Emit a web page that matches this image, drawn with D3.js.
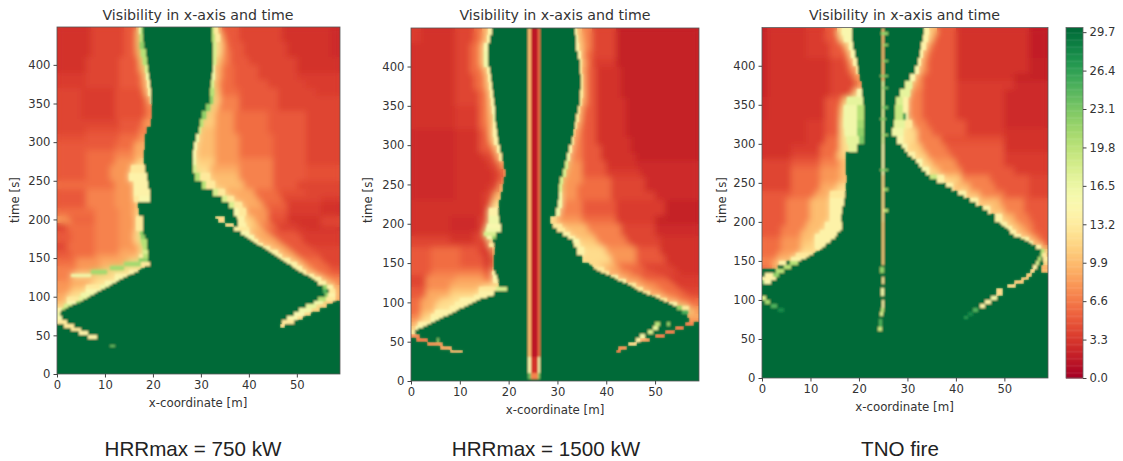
<!DOCTYPE html>
<html>
<head>
<meta charset="utf-8">
<script src="https://cdn.jsdelivr.net/npm/d3@7"></script>
<style>
body { margin: 0; background: #fff; }
text { fill: #333; font-family: "DejaVu Sans"; }
.caption { font-family: "Liberation Sans"; font-size: 20.6px; fill: #222; }
</style>
</head>
<body>
<svg id="chart" width="1123" height="461"></svg>
<script>
// each row: [start time, "value:endX value:endX ..."], row lasts until the previous (later) start time
const rows750 = [
    [440, "3:7 4:14 5:16.5 9:17 16:17.6 22:18 30:32.3 20:32.8 13:33.6 8:34.5 5:38 4:47 3:57 2.5:59"],
    [430, "3:7 4:14 5:16.5 10:17.2 20:18 30:32.4 20:33 13:34 8:35 5:38 4:47 3:57 2.5:59"],
    [420, "3:7 4:14 5:16.5 10:17.4 22:18.2 30:32.5 18:33.2 12:34.5 8:35.5 5:39 4:48 3:57 2.5:59"],
    [410, "3:7 4:14 5:16.5 9:17.6 20:18.5 30:32.6 18:33.2 12:34.5 7:36 5:39 4:48 3:57 2.5:59"],
    [400, "3:6 4:13 5:17 10:18 20:18.8 30:32.6 18:33.2 10:34.5 7:36 5:40 4:50 3:59"],
    [390, "3:6 4:13 5:17 9:18.4 18:19 30:32.5 16:33 9:34.5 6:37 5:42 4:50 3:59"],
    [380, "3.5:6 4:13 5:17.5 8:18.6 16:19.2 30:32.3 16:33 9:34.5 6:37 5:42 4:50 3.5:59"],
    [370, "3.5:6 4:13 5:17.5 8:18.8 14:19.3 30:32.2 18:32.8 9:34 6:37 5:44 4:52 3.5:59"],
    [360, "4:5 3.5:12 4.5:18 8:19 14:19.5 30:32 20:32.7 10:34 6:38 5:46 4:54 3.5:59"],
    [350, "4:5 3.5:12 4.5:18.5 8:19.3 14:19.7 30:31.8 22:32.5 11:34 7:38 5:46 4:59"],
    [340, "4:5 3.5:12 4.5:18.5 7:19.8 30:31 22:31.8 11:33.5 7:38 5:46 4:59"],
    [330, "4:5 3.5:12 4.5:18.5 7:19.8 30:30.2 22:31 11:33 8:37 6:44 5:52 4:59"],
    [320, "4:6 4:13 5:18 8:19.5 30:29.8 20:30.5 11:33 8:37 6:44 5:52 4:59"],
    [310, "4:6 4.5:13 5:17 7:18.8 30:29.5 18:30 10:33 8:37 6:44 5:52 4:59"],
    [300, "4.5:6 5:13 6:17 8:18.4 30:29 16:29.6 10:33 8:38 6:45 5:52 4:59"],
    [290, "5:6 5:12 6:16 9:18.4 30:28.6 15:29.2 10:33 8:38 6:45 5:52 4:59"],
    [280, "5:6 6:12 7:16 9:18.2 30:28.4 15:29 10:33 8:38 6:45 5:52 4:59"],
    [270, "5:6 6:12 8:16.5 11:18.2 30:28.3 16:29 11:33 8:38 7:45 5:52 4:59"],
    [260, "5:6 6:11 8:15.5 13:18.3 30:28.3 18:29 12:32 9:38 7:45 5:52 4.5:59"],
    [250, "5:6 6:11 8:15 14:18.7 30:28.8 20:29.8 13:32 10:38 7:45 5:52 4.5:59"],
    [240, "6:6 6:12 8:16 14:19 30:30.3 20:31 13:33 10:39 7:45 5:50 4:59"],
    [230, "5:6 7:12 8:16 14:19.3 30:32.5 18:33.5 13:35 9:41 6:46 4.5:52 4:59"],
    [222, "5:6 7:12 8:16 13:17 15:19.3 30:34.5 18:35.5 13:37 9:42 6:47 4:55 3.5:59"],
    [215, "5:6 7:12 8:16 10:16.8 30:35.8 18:37 13:38.5 9:43 5.5:48 3.5:55 3:59"],
    [205, "6:3 6:8 7:13 8:16 11:17 30:36.8 15:38 13:39.5 8:44 5:48 3.5:55 3:59"],
    [200, "8:2 5.5:8 7:13 8:16.5 13:18 30:33 12:35 30:37.6 14:39 11:41 8:44 4.5:48 3:55 4:59"],
    [195, "8:3 5.5:8 7:13 8:16.5 13:18 30:33.5 12:35 30:37.7 14:39 11:41 8:44 4.5:48 3:55 4:59"],
    [190, "4:2 6:8 7:13 8:16.5 13:18 30:35 12:36.8 30:37.8 14:39.5 11:42 7:45 4:50 3:55 4:59"],
    [185, "4:2 6:8 7:13 8:16.5 13:18 30:37 14:38 13:40 10:43 6:46 3.5:52 3:59"],
    [180, "5:3 6:8 7:13 8:16 12:17.3 22:18 30:38.3 15:40 9:44 5:50 3.5:59"],
    [175, "5:3 6:8 7:13 8:16 12:17.6 22:18.3 30:39.1 15:41 9:45 5:51 3.5:59"],
    [170, "5:3 6:8 7:13 8:16 12:17.6 20:18.7 30:40.4 14:42 9:46 5:51 3.5:59"],
    [165, "4:2 6:8 7:13 8:16.5 11:17.8 20:18.7 30:41.6 14:43 9:47 5:52 3.5:59"],
    [160, "4:2 6:8 7:13 8:17 11:18 20:18.8 30:42.9 14:44.5 9:48 5:53 4:59"],
    [155, "5:3 6:8 7:13 9:17 12:18 18:19 30:44.2 14:46 9:49 5:54 4:59"],
    [150, "5:3 6:8 8:13 9:17 13:18 20:19 30:45.5 14:47 9:50 5:55 4:59"],
    [145, "6:4 8:9 9:15 12:17 22:19 30:46.7 14:48.5 9:51 6:55 4:59"],
    [140, "6:4 8:9 9:14 21:17.5 13:19.3 30:48 14:50 9:52 6:56 4:59"],
    [135, "7:4 8:9 10:11 21:14 12:18.4 30:49.3 14:51 9:53 6:57 4.5:59"],
    [130, "7:4 9:7 21:10.5 12:15 14:16.9 30:50.5 14:52 9:54 6:57 5:59"],
    [125, "7:3 16:7 11:12 14:15.3 30:51.8 14:53.5 9:55.5 6:59"],
    [120, "7:3 9:8 12:12 15:13.8 30:53.1 14:55 9:57 7:59"],
    [115, "8:3 9:7 12:10 15:12.3 30:54.4 14:56 9:58 7:59"],
    [110, "8:3 10:6 13:9 16:10.8 30:55.4 22:56.3 14:57.5 9:59"],
    [105, "8:3 11:6 15:9.2 30:55.5 25:56.3 30:56.7 13:58 9:59"],
    [100, "9:2 12:5 16:7.7 30:55.8 22:56.6 14:58 9:59"],
    [95, "9:2 13:4.5 17:6.2 30:54.5 20:56 13:58 9:59"],
    [90, "10:2 15:4 22:4.7 30:53.5 16:55.5 10:57.5 30:59"],
    [85, "11:1.5 18:3.1 30:52 17:54 11:56.2 30:59"],
    [80, "14:1 20:1.6 30:50.5 16:53 11:54.8 30:59"],
    [75, "16:0.7 30:49.5 15:51.5 11:53 30:59"],
    [70, "15:1 30:48 15:50 11:51.2 30:59"],
    [65, "13:2 30:47 13:49.4 30:59"],
    [60, "30:1.5 13:3.5 30:46.5 12:47.6 30:59"],
    [55, "30:3 13:5 30:59"],
    [50, "30:4.5 14:6.5 30:59"],
    [45, "30:6.5 14:8.3 30:59"],
    [38, "30:59"],
    [35, "30:11 24:12 30:59"],
    [0, "30:59"]
];

const rows1500 = [
    [440, "3.5:2 3:9 4:13 6:14.5 9:15.7 14:16.5 30:33.6 14:34 10:35 7:37 4:42 2:59"],
    [430, "3.5:2 3:9 4:13 6:14.5 9:15.5 14:16.2 30:33.7 14:34.2 10:35.2 7:37 4:42 2:59"],
    [420, "3:2 3:9 4:12 6:14 9:15 15:15.8 30:33.9 14:34.4 10:35.5 7:37 4:42 2:59"],
    [410, "3:2 3:9 4:12 6:14 9:15 16:15.8 30:34.3 14:34.8 9:35.5 6:37 4:42 2:59"],
    [400, "3:9 4:12 6:14 9:15 16:15.8 30:34.6 13:35 9:35.8 6:37 3.5:42 2:59"],
    [390, "3:9 4:12 6:14.5 9:15.5 14:16.1 30:34.7 13:35.1 8:36 5:38 3:43 2:59"],
    [380, "3:9 4:13 6:15 9:15.8 14:16.3 30:34.8 13:35.2 8:36 5:38 3:43 2:59"],
    [370, "3:9 4:13 6:15 9:16 14:16.6 30:34.8 13:35.2 8:36 5:38 3:43 2:59"],
    [360, "3:9 4:14 6:15.5 9:16.2 14:16.9 30:34.7 13:35.2 8:36 5:38 3:43 2:59"],
    [350, "3:9 4:14 6:15.5 9:16.4 14:17 30:34.6 13:35.1 8:36 5:38 3:44 2:59"],
    [340, "3:9 3.5:14 6:15.5 9:16.5 15:17.2 30:34.2 13:34.7 8:35.5 5:38 3:44 2:59"],
    [330, "3:9 3.5:14 6:15.5 9:16.7 16:17.3 30:33.9 13:34.4 8:35.2 5:38 3:44 2:59"],
    [320, "3:9 3.5:14 6:15.8 9:16.8 14:17.4 30:33.5 13:34 8:35 5:38 3:44 2:59"],
    [310, "2.5:9 3:14 5:15.8 9:16.8 14:17.6 30:33.2 12:33.8 7:35 5:38 3:44 2:59"],
    [300, "2.5:9 3:14 5:16 9:17 14:17.9 30:32.9 13:33.4 7:35 5:38 3:45 2:59"],
    [290, "2.5:9 3:14 5:16.5 8:17.6 14:18.3 30:32.4 14:33 7:35 5:39 3:45 2:59"],
    [280, "2.5:9 3:15 4:17 7:18 13:18.6 30:31.9 16:32.6 7:35 5:39 3:46 2:59"],
    [270, "2.5:9 3:16 4:18 8:19 30:31.5 18:32.2 8:35 5:40 3:46 2.5:59"],
    [260, "2.5:9 3:17 4:18.8 8:19.4 30:31.2 18:31.8 8:35 5:40 3.5:47 2.5:59"],
    [250, "2.5:9 3:17 4:18.5 7:19 30:30.5 18:31.2 8:35 6:41 4:48 2.5:59"],
    [240, "2.5:9 3:16 4:18 10:18.9 30:30.4 18:31 8:34 6:41 4:48 2.5:59"],
    [230, "2.5:9 3:15 4:17 10:18.4 30:30.4 16:31 8:34 6:41 4:50 2.5:59"],
    [220, "3:9 3:15 4:16.5 12:18 30:30.2 16:31 7:35 5:42 3.5:52 2:59"],
    [210, "3:8 3:15 4:16 14:17.9 30:29.8 16:30.5 7:35 5:42 3.5:52 2:59"],
    [200, "3:8 2.5:14 4:16 16:18 30:28.4 12:30 8:35 6:42 3.5:50 2:59"],
    [195, "3:8 2.5:14 4:15.5 15:18.5 30:29.1 13:31 10:36 7:43 4:50 2.5:59"],
    [190, "3:8 2.5:14 4:15.3 16:18.5 30:30 13:31.5 10:36 7:43 4:50 2.5:59"],
    [185, "3:8 3:13 4:15 18:17.5 30:31.2 14:32.5 10:37 7:43 4:50 2.5:59"],
    [180, "4:8 3:13 4:15.5 15:16.5 22:17.5 30:32.2 14:33.5 10:38 7:44 4:51 3:59"],
    [175, "4:8 3:13 4:16 12:16.8 30:33.2 15:34.5 11:38 7:44 4:51 3:59"],
    [170, "4:8 4:14 4:16 13:17 30:33.3 14:34.6 11:39 7:45 4:51 3:59"],
    [160, "5:4 6:10 5:14 3.5:16.5 10:17.2 30:34 14:35.5 12:40 8:46 5:51 3:59"],
    [150, "5:4 6:10 5:15 3:16.5 8:17 30:35 12:36.5 12:41 8:46 5:52 3:59"],
    [145, "5:4 6:10 5:15 3.5:16.5 8:17 30:36.5 12:38.5 10:42 6:47 4:53 3:59"],
    [140, "5:4 6:10 6:15 4:16.5 10:17 30:37.5 13:39.5 9:43 6:48 4:54 3:59"],
    [135, "5:4 7:10 7:15 5:16.5 14:17.3 30:39 13:40.5 8:45 5:50 4:55 3:59"],
    [130, "4:3 7:9 8:15 6:16.8 15:17.6 30:41 14:42.5 8:47 5:52 3.5:59"],
    [125, "4:3 8:9 9:15 7:16.8 14:17.9 30:42.5 14:44 8:48 6:53 3.5:59"],
    [120, "4:3 7:8 9:15 11:18 30:44.5 13:46 8:50 6:54 3.5:59"],
    [115, "5:3 8:8 10:14 13:17.5 18:19.6 30:45.8 13:47.5 8:51 6:55 4:59"],
    [110, "5:3 9:8 11:14 14:17 30:47.5 13:49 8:52 6:56 4:59"],
    [105, "5:3 9:8 12:13 14:16.8 30:49.3 13:51 8:54 6:57 4.5:59"],
    [100, "6:2 9:6 12:10 14:14.2 30:51 13:52.5 8:55 6:59"],
    [95, "6:2 9:5 12:9 14:12.5 30:52.8 14:54.5 9:56.5 6:59"],
    [90, "6:2 9:5 12:8 14:10.8 30:54.5 22:55.5 13:57 8:59"],
    [85, "6:2 10:5 14:9.2 30:55.5 25:56.7 11:58 8:59"],
    [80, "7:2 11:4 14:7.5 30:56.5 9:59"],
    [75, "8:2 12:4 15:5.8 30:57 8:59"],
    [70, "9:1.5 14:4.1 30:50 20:51 30:52.5 22:53 30:56.2 7:58 30:59"],
    [65, "11:1 15:2.4 30:49.5 17:50.5 30:54 7:56 30:59"],
    [60, "13:0.8 30:48.5 18:49.5 30:52 7:54 30:59"],
    [55, "7:1.8 30:47 16:48 30:50 7:52 30:59"],
    [50, "30:1 7:3.5 30:5.4 23:5.8 30:46 14:47 8:49 30:59"],
    [45, "30:3.2 8:6.5 30:44.5 12:46.3 30:59"],
    [40, "30:6 9:8.5 30:42.5 8:44.2 30:59"],
    [35, "30:8 10:10.7 30:42 7:43 30:59"],
    [0, "30:59"]
];

const rowsTno = [
    [440, "2:1 3:9 3.5:13 5:15.5 12:16.5 15:18.5 30:33.4 14:34.5 10:36 5:40 3:55 1.8:59"],
    [430, "2:1 3:9 3.5:13 5:15.8 12:17 15:18.5 30:33.3 14:34.3 10:35.5 5:40 3:55 1.8:59"],
    [420, "2:1 3:9 3.5:14 5:17 10:18 15:18.8 30:32.9 14:33.8 8:35 5:40 3:55 1.8:59"],
    [410, "2:1 3:9 3.5:14 5:17.5 9:18.4 15:19.2 30:32.6 14:33.2 8:34.5 5:40 3:55 1.8:59"],
    [400, "2:1 3:9 3:14 4:17.5 7:18.8 14:19.5 30:32.2 14:32.8 8:34 5:40 3:55 2:59"],
    [390, "2:1 3:9 3:14 4:18 7:19.3 13:19.9 30:31.5 15:32.3 8:34 5:40 3:55 2:59"],
    [380, "2:1 3:9 3:14 4:19 8:20.3 30:30.5 15:31.5 8:33 5:40 3:52 2:59"],
    [370, "2:1 3:9 3:14 4:19.5 8:20.7 30:29.5 17:31 8:33 5:40 3.5:52 2.5:59"],
    [360, "2:1 3:9 3:14 4:18.5 9:19.5 15:20.7 30:28.5 17:30.5 7:33 5:40 3.5:50 2.5:59"],
    [350, "2.5:1 3:9 3:13 5:16.5 10:17.5 17:20.9 30:27.7 18:29 14:30.2 7:33 5:40 3.5:50 2.5:59"],
    [340, "2.5:1 3:9 3:13 5:16 10:17 16:19.5 20:21 30:27.5 19:29 14:30.2 7:33 5:40 3.5:50 2.5:59"],
    [330, "2.5:1 3:9 3:13 5:16 11:17 16:19.5 20:21 30:27.4 19:29 27:29.8 15:30.2 7:33 5:40 3.5:50 2.5:59"],
    [320, "3:9 3.5:13 5:16 12:17 16:19.5 21:21 30:27.2 17:29.5 13:31 7:34 5:42 3.5:50 2.5:59"],
    [310, "3:9 3.5:13 5:16 12:17.2 16:19.5 22:21 30:26.9 16:29 12:32 7:35 5:42 3.5:50 3:59"],
    [300, "3:9 3.5:13 6:16 12:17.5 17:20 23:21 30:27.8 15:29 12:32 7:37 4.5:50 3:59"],
    [290, "3:6 3.5:12 6:16 12:18 17:19.5 30:28.8 15:30 11:33 7:38 5:50 3:59"],
    [280, "3:6 4:12 6:15.5 11:17.3 30:30.2 14:31.5 11:34 7:39 5:50 3.5:59"],
    [270, "4:6 5:12 7:16 10:17.3 30:31.7 15:33 11:35 8:40 5:50 3.5:59"],
    [260, "4:6 6:12 8:16 10:17.4 30:33 15:34.5 11:36.5 8:41 5:52 3.5:59"],
    [250, "4:6 6:12 8:16 10:17.5 30:34.7 19:36 14:37.5 11:41 7:47 5:55 4:59"],
    [240, "4:6 6:12 9:15.5 12:17.3 30:38 14:39.5 10:43 7:48 5:55 4:59"],
    [230, "5:6 6:11 9:14 13:17.2 30:40.5 14:42 10:45 7:50 5:55 4:59"],
    [220, "5:5 7:10 10:14 14:16.9 30:43 14:44.5 10:49 7:54 5:59"],
    [210, "5:5 7:10 10:14 14:16.6 30:45.5 14:47 10:50 7:54 5:59"],
    [200, "5:5 7:10 10:14 14:16.4 30:48 14:49.5 10:52 7:55 5:59"],
    [195, "5:5 7:9 10:13 14:16.5 30:49 14:50.5 10:53 7:56 5:59"],
    [190, "5:4 7:9 10:13 14:16.5 30:50.2 14:51.5 10:54 7:56 5:59"],
    [185, "5:4 7:8 10:12 14:16.1 30:51.2 14:52.5 9:55 6:57 5:59"],
    [180, "5:4 7:8 10:11 14:15.5 30:52 14:53.5 9:56 6:58 5:59"],
    [175, "6:4 8:8 10:11 14:15 30:53.5 14:55 9:57 5:59"],
    [170, "6:4 8:8 11:11 14:14 30:55 14:56 9:58 5:59"],
    [165, "6:4 8:8 11:11 14:13 30:56.5 14:57.5 8:59"],
    [160, "6:4 8:8 12:12 30:57.5 20:58.2 11:59"],
    [155, "6:3 9:7 13:10.5 30:57.3 23:57.7 13:58.5 9:59"],
    [150, "7:3 9:6 14:9 30:57 20:57.5 30:58 13:59"],
    [145, "7:2 10:3.5 14:5 30:5.8 20:7.5 30:56.6 18:57.2 30:58 12:59"],
    [140, "6:2 8:3.2 30:4.6 20:6 30:56 14:56.8 30:57.5 9:59"],
    [135, "30:2.8 20:4.6 30:55.3 12:56.3 30:57.5 10:59"],
    [130, "30:0.6 14:2.2 22:3.6 30:54.5 11:55.7 30:59"],
    [125, "14:2.8 30:53.5 11:55 30:59"],
    [120, "25:0.5 15:1.8 30:52 11:54 30:59"],
    [115, "30:50.5 12:52.5 30:59"],
    [105, "30:48.3 12:49.8 30:59"],
    [100, "18:0.9 30:47.3 16:48.5 30:59"],
    [95, "30:0.6 21:1.7 30:46 14:47.3 30:59"],
    [90, "30:1.8 25:3 30:45 14:46 30:59"],
    [85, "30:3.3 28:4.6 30:43.5 25:44.5 30:59"],
    [80, "30:42.5 28:43.5 30:59"],
    [75, "30:41.7 27:42.5 30:59"],
    [0, "30:59"]
];

// extra small patches on top of the rows: [t0, t1, x0, x1, value]
const patches750 = [
    [135, 137.5, 17.6, 18.4, 30], [130, 132.5, 16.1, 16.9, 30], [125, 127.5, 14.5, 15.3, 30], [120, 122.5, 13, 13.8, 30],
    [115, 117.5, 11.5, 12.3, 30], [110, 112.5, 10, 10.8, 30], [105, 107.5, 8.4, 9.2, 30], [100, 102.5, 6.9, 7.7, 30],
    [95, 97.5, 5.4, 6.2, 30], [90, 92.5, 3.9, 4.7, 30], [85, 87.5, 2.3, 3.1, 30], [80, 82.5, 0.8, 1.6, 30],
    [175, 177.5, 39.1, 39.8, 30], [170, 172.5, 40.4, 41, 30], [165, 167.5, 41.6, 42.3, 30], [160, 162.5, 42.9, 43.6, 30],
    [155, 157.5, 44.2, 44.9, 30], [150, 152.5, 45.5, 46.1, 30], [145, 147.5, 46.7, 47.4, 30], [140, 142.5, 48, 48.7, 30],
    [135, 137.5, 49.3, 49.9, 30], [130, 132.5, 50.5, 51.2, 30], [125, 127.5, 51.8, 52.5, 30], [120, 122.5, 53.1, 53.8, 30]
];
const patches1500 = [
    [30, 449, 24.05, 24.6, 10], [30, 449, 24.6, 26, 1.5], [30, 449, 26, 26.35, 6],
    [10, 30, 24.05, 24.6, 15], [10, 30, 24.6, 26, 3], [10, 30, 26, 26.35, 15],
    [3, 10, 24.05, 24.6, 24], [3, 10, 24.6, 26, 7], [3, 10, 26, 26.35, 23],
    [105, 107.5, 15.5, 16.8, 30], [100, 102.5, 13.3, 14.2, 30], [95, 97.5, 11.6, 12.5, 30], [90, 92.5, 9.9, 10.8, 30],
    [85, 87.5, 8.3, 9.2, 30], [80, 82.5, 6.6, 7.5, 30], [75, 77.5, 4.9, 5.8, 30], [70, 72.5, 3.2, 4.1, 30], [65, 67.5, 1.5, 2.4, 30],
    [145, 147.5, 36.5, 37, 30], [140, 142.5, 37.5, 38.2, 30], [135, 137.5, 39, 40, 30], [130, 132.5, 41, 41.8, 30],
    [125, 127.5, 42.5, 43.5, 30], [120, 122.5, 44.5, 45.2, 30], [115, 117.5, 45.8, 46.6, 30], [110, 112.5, 47.5, 48.4, 30],
    [105, 107.5, 49.3, 50.2, 30], [100, 102.5, 51, 51.9, 30], [95, 97.5, 52.8, 53.7, 30]
];
const patchesTno = [
    [60, 65, 24, 24.8, 19], [65, 75, 24.1, 24.8, 25], [80, 85, 24.4, 25, 18], [85, 90, 24.5, 25.2, 20],
    [90, 100, 24.7, 25.2, 14], [105, 115, 24.5, 25.2, 16], [120, 130, 24.7, 25.2, 13], [135, 142, 24.3, 25.2, 22],
    [145, 200, 24.8, 25.2, 11], [200, 260, 24.85, 25.25, 12], [260, 300, 24.85, 25.2, 15], [300, 380, 24.85, 25.2, 17],
    [380, 449, 24.85, 25.25, 10], [213, 216, 25.2, 26, 20], [240, 243, 25.2, 26, 22], [265, 268, 24.3, 26, 23],
    [310, 313, 25, 26, 22], [330, 333, 24.4, 25.6, 23], [345, 348, 25, 26, 24], [370, 373, 25, 26, 24],
    [385, 388, 24.4, 26, 23], [405, 408, 25, 25.9, 23], [425, 428, 25, 26, 22], [440, 443, 24.6, 26, 22],
    [185, 187.5, 15.5, 16.1, 30], [180, 182.5, 15, 15.5, 30], [175, 177.5, 14.3, 15, 30], [170, 172.5, 13.3, 14, 30],
    [165, 167.5, 12.3, 13, 30], [160, 162.5, 11.1, 12, 30], [155, 157.5, 9.6, 10.5, 30], [150, 152.5, 8.1, 9, 30],
    [290, 295, 28.8, 29.4, 30], [280, 285, 30.2, 30.9, 30], [270, 275, 31.7, 32.4, 30], [260, 265, 33, 33.8, 30],
    [250, 255, 34.7, 36, 30], [240, 245, 38, 39.2, 30], [230, 235, 40.5, 41.7, 30], [220, 225, 43, 44.2, 30],
    [210, 215, 45.5, 46.7, 30], [195, 197.5, 49, 49.6, 30], [190, 192.5, 50.2, 50.7, 30], [175, 177.5, 53.5, 54.2, 30], [170, 172.5, 55, 55.7, 30]
];

const panels = [
    { rows: rows750, patches: patches750, left: 57, right: 340, top: 27, bottom: 374, titleX: 198, labelY: 407, yLabelX: 19, caption: "HRRmax = 750 kW", captionX: 193 },
    { rows: rows1500, patches: patches1500, left: 411, right: 699, top: 28, bottom: 381, titleX: 555, labelY: 414, yLabelX: 372, caption: "HRRmax = 1500 kW", captionX: 546 },
    { rows: rowsTno, patches: patchesTno, left: 762, right: 1048, top: 27.5, bottom: 378, titleX: 904.5, labelY: 411, yLabelX: 726, caption: "TNO fire", captionX: 900 }
];

const xTicks = [0, 10, 20, 30, 40, 50];
const yTicks = [0, 50, 100, 150, 200, 250, 300, 350, 400];
const barTicks = [0, 3.3, 6.6, 9.9, 13.2, 16.5, 19.8, 23.1, 26.4, 29.7];
const xMax = 59;
const tMax = 449;
const vMax = 30.1;

const svg = d3.select("#chart");
const color = v => d3.interpolateRdYlGn(v / vMax);

const defs = svg.append("defs");
function addBlur(id, dev) {
    defs.append("filter").attr("id", id)
        .attr("x", "-5%").attr("y", "-5%").attr("width", "110%").attr("height", "110%")
        .append("feGaussianBlur").attr("stdDeviation", dev);
}
addBlur("wide", 3);
addBlur("soft", 1);

function styleAxis(g) {
    g.selectAll("text").style("font-size", "11.6px").style("fill", "#333");
    g.selectAll("line").attr("stroke", "#444");
    g.select(".domain").attr("stroke", "none");
}

panels.forEach((p, i) => {
    const x = d3.scaleLinear().domain([0, xMax]).range([p.left, p.right]);
    const y = d3.scaleLinear().domain([0, tMax]).range([p.bottom, p.top]);

    // flatten run-length rows into cells
    const cells = [];
    p.rows.forEach((row, r) => {
        const t1 = r === 0 ? tMax : p.rows[r - 1][0];
        let x0 = 0;
        row[1].split(" ").forEach(part => {
            const [v, x1] = part.split(":").map(Number);
            cells.push({ x0, x1, t0: row[0], t1, v });
            x0 = x1;
        });
    });
    const patchCells = p.patches.map(c => ({ t0: c[0], t1: c[1], x0: c[2], x1: c[3], v: c[4] }));

    defs.append("clipPath").attr("id", `clip${i}`)
        .append("rect")
        .attr("x", p.left).attr("y", p.top)
        .attr("width", p.right - p.left).attr("height", p.bottom - p.top);

    const holder = svg.append("g").attr("clip-path", `url(#clip${i})`);
    const drawCells = (g, list) => g.selectAll("rect")
        .data(list)
        .join("rect")
        .attr("x", d => x(d.x0))
        .attr("y", d => y(d.t1))
        .attr("width", d => x(d.x1) - x(d.x0))
        .attr("height", d => y(d.t0) - y(d.t1))
        .attr("fill", d => color(d.v))
        .attr("shape-rendering", "crispEdges");

    // crisp base, a wide blur for the smoke field, a slight one for edges and clear air
    drawCells(holder.append("g"), cells);
    drawCells(holder.append("g").attr("filter", "url(#wide)"), cells.filter(d => d.v < 30));
    drawCells(holder.append("g").attr("filter", "url(#soft)"), cells.filter(d => d.v >= 13).concat(patchCells));

    svg.append("rect")
        .attr("x", p.left).attr("y", p.top)
        .attr("width", p.right - p.left).attr("height", p.bottom - p.top)
        .attr("fill", "none").attr("stroke", "#555").attr("stroke-width", 0.8);

    svg.append("g").attr("transform", `translate(0,${p.bottom})`)
        .call(d3.axisBottom(x).tickValues(xTicks).tickSize(3.5).tickPadding(3).tickFormat(d3.format("d")))
        .call(styleAxis);
    svg.append("g").attr("transform", `translate(${p.left},0)`)
        .call(d3.axisLeft(y).tickValues(yTicks).tickSize(3.5).tickPadding(3).tickFormat(d3.format("d")))
        .call(styleAxis);

    svg.append("text").attr("x", p.titleX).attr("y", 20)
        .attr("text-anchor", "middle").style("font-size", "14.2px").text("Visibility in x-axis and time");
    svg.append("text").attr("x", p.titleX).attr("y", p.labelY)
        .attr("text-anchor", "middle").style("font-size", "11.8px").text("x-coordinate [m]");
    svg.append("text").attr("transform", `translate(${p.yLabelX},200) rotate(-90)`)
        .attr("text-anchor", "middle").style("font-size", "11.8px").text("time [s]");
    svg.append("text").attr("class", "caption").attr("x", p.captionX).attr("y", 456)
        .attr("text-anchor", "middle").text(p.caption);
});

// colorbar
const barY = d3.scaleLinear().domain([0, vMax]).range([378, 27.5]);
const bar = svg.append("g");
bar.selectAll("rect")
    .data(d3.range(0, vMax, 0.1))
    .join("rect")
    .attr("x", 1066).attr("width", 17)
    .attr("y", d => barY(d + 0.1))
    .attr("height", d => barY(d) - barY(d + 0.1) + 0.5)
    .attr("fill", d => color(d));
svg.append("rect").attr("x", 1066).attr("y", 27.5).attr("width", 17).attr("height", 350.5)
    .attr("fill", "none").attr("stroke", "#666").attr("stroke-width", 0.8);
svg.append("g").attr("transform", "translate(1083,0)")
    .call(d3.axisRight(barY).tickValues(barTicks).tickSize(3.5).tickPadding(3).tickFormat(d3.format(".1f")))
    .call(styleAxis);
</script>
</body>
</html>
